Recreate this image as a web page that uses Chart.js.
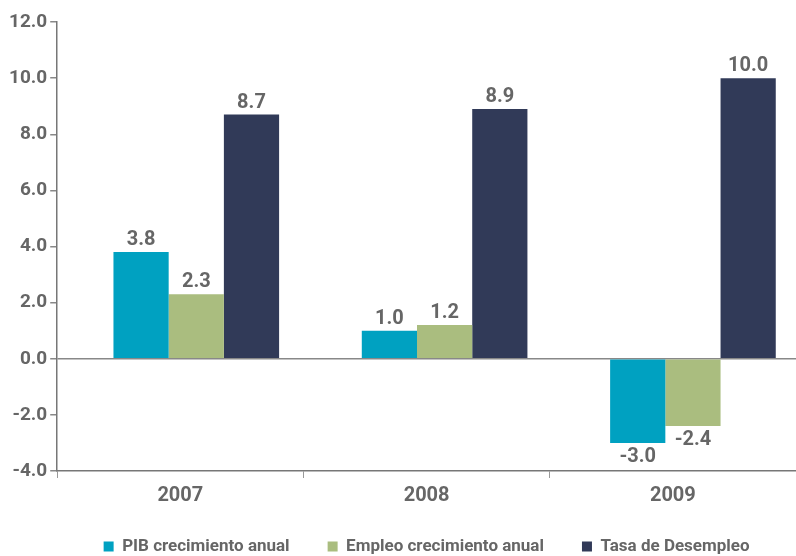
<!DOCTYPE html>
<html>
<head>
<meta charset="utf-8">
<script src="https://cdn.jsdelivr.net/npm/chart.js@4"></script>
<style>
   html, body { margin: 0; padding: 0; background: #fff; overflow: hidden; }
   #wrap { position: relative; width: 796px; height: 556px; }
</style>
</head>
<body>
<div id="wrap"><canvas id="chart-bars"></canvas></div>
<script>
// años y series
var anios = ["2007", "2008", "2009"];
var pib = [3.8, 1.0, -3.0];
var empleo = [2.3, 1.2, -2.4];
var desempleo = [8.7, 8.9, 10.0];
var ticksY = [-4, -2, 0, 2, 4, 6, 8, 10, 12];

var gris = "#666666";

function serie(valores) {
   return valores.map(function (v, i) {
      return { x: i, y: v };
   });
}

// etiquetas con el valor encima / debajo de cada barra
var etiquetasValor = {
   id: "etiquetasValor",
   afterDatasetsDraw: function (chart) {
      var ctx = chart.ctx;
      ctx.save();
      ctx.font = "bold 20px Roboto";
      ctx.fillStyle = gris;
      ctx.textAlign = "center";
      chart.data.datasets.forEach(function (ds, i) {
         chart.getDatasetMeta(i).data.forEach(function (bar, j) {
            var v = ds.data[j].y;
            if (v >= 0) {
               ctx.textBaseline = "bottom";
               ctx.fillText(v.toFixed(1), bar.x, bar.y - 2);
            } else {
               ctx.textBaseline = "top";
               ctx.fillText(v.toFixed(1), bar.x, bar.y + 4);
            }
         });
      });
      ctx.restore();
   },
};

// sube un poco la leyenda (el padding de 38 también se aplica en vertical)
var leyendaArriba = {
   id: "leyendaArriba",
   afterLayout: function (chart) {
      chart.legend.top -= 14;
      chart.legend.bottom -= 14;
   },
};

var ctxBars = document.getElementById("chart-bars").getContext("2d");

window.grafica1 = new Chart(ctxBars, {
   type: "bar",
   plugins: [etiquetasValor, leyendaArriba],
   data: {
      datasets: [
         {
            label: "PIB crecimiento anual",
            data: serie(pib),
            backgroundColor: "#00a1c1",
            xAxisID: "x",
         },
         {
            label: "Empleo crecimiento anual",
            data: serie(empleo),
            backgroundColor: "#aabd7f",
            xAxisID: "x",
         },
         {
            label: "Tasa de Desempleo",
            data: serie(desempleo),
            backgroundColor: "#313a58",
            xAxisID: "x",
         },
      ],
   },
   options: {
      responsive: true,
      maintainAspectRatio: false,
      animation: false,
      categoryPercentage: 0.667,
      barPercentage: 1.0,
      layout: {
         padding: { top: 22, right: 0, left: 6, bottom: -23 },
      },
      plugins: {
         tooltip: { enabled: false },
         legend: {
            position: "bottom",
            fullSize: false,
            labels: {
               boxWidth: 10,
               boxHeight: 10,
               padding: 38,
               color: gris,
               font: { family: "Roboto", size: 17, weight: "bold" },
            },
         },
      },
      scales: {
         // eje oculto donde se colocan las barras
         x: {
            type: "linear",
            display: false,
            offset: false,
            min: -0.56,
            max: 2.415,
            afterBuildTicks: function (scale) {
               scale.ticks = [{ value: 0 }, { value: 1 }, { value: 2 }];
            },
         },
         // eje visible con los años
         xl: {
            type: "category",
            axis: "x",
            position: "bottom",
            labels: anios,
            offset: true,
            border: { display: true, color: "#777", width: 1.5 },
            grid: {
               offset: true,
               drawOnChartArea: false,
               drawTicks: true,
               tickLength: 7,
               tickColor: "#999",
            },
            ticks: {
               color: gris,
               padding: 6,
               font: { family: "Roboto", size: 20, weight: "bold" },
            },
         },
         y: {
            min: -4,
            max: 12,
            afterBuildTicks: function (scale) {
               scale.ticks = ticksY.map(function (v) {
                  return { value: v };
               });
            },
            border: { display: true, color: "#777", width: 1.5 },
            grid: {
               drawTicks: true,
               tickLength: 7,
               tickColor: "#888",
               color: function (c) {
                  return c.tick && c.tick.value === 0 ? "#888" : "rgba(0,0,0,0)";
               },
               lineWidth: 1.5,
            },
            ticks: {
               color: gris,
               padding: 3,
               font: { family: "Roboto", size: 19, weight: "bold" },
               callback: function (v) {
                  return Number(v).toFixed(1);
               },
            },
         },
      },
   },
});
</script>
</body>
</html>
